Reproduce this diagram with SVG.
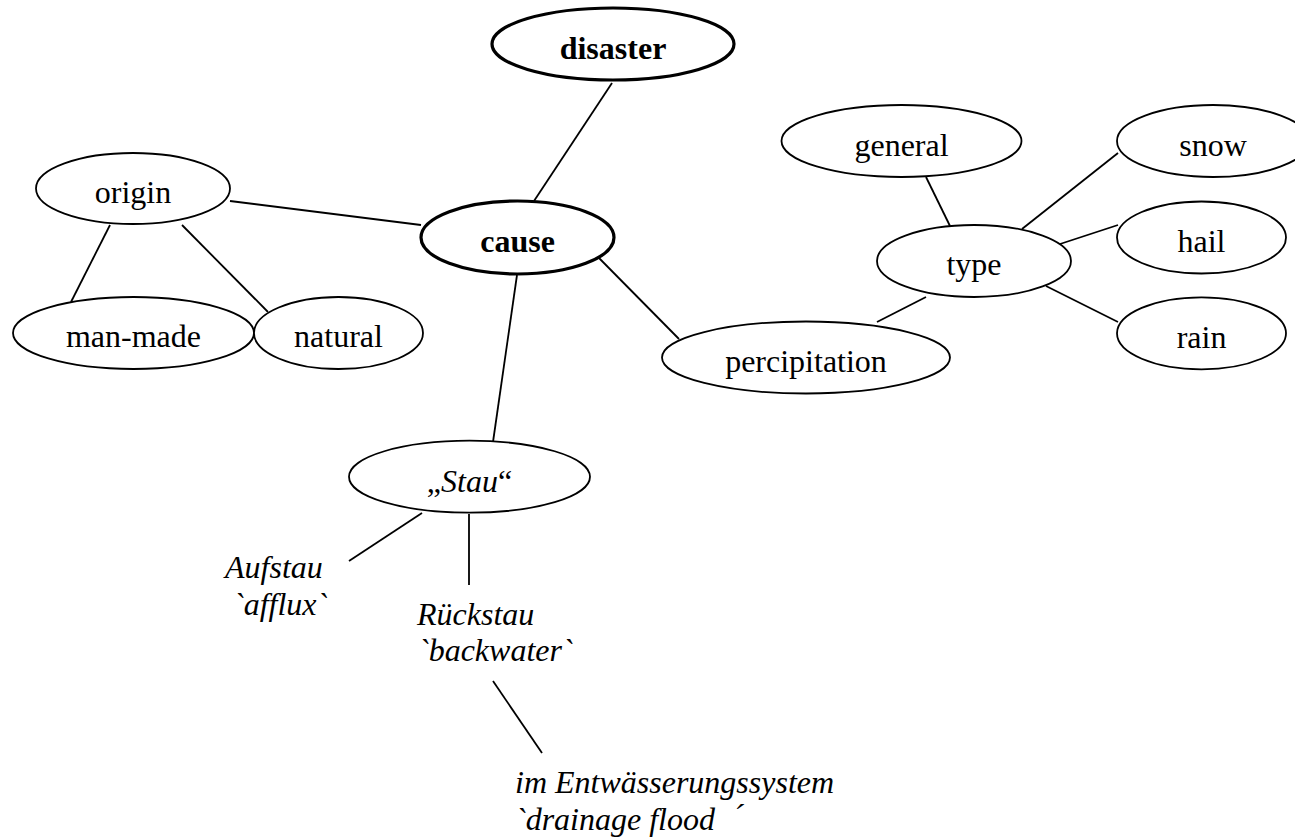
<svg xmlns="http://www.w3.org/2000/svg" width="1295" height="840" viewBox="0 0 1295 840">
<style>
.n{fill:#fff;stroke:#000;stroke-width:1.8}
.b{fill:#fff;stroke:#000;stroke-width:3.2}
.t{font-family:"Liberation Serif","Times New Roman",serif;font-size:32px;fill:#000;text-anchor:middle}
.tb{font-weight:bold}
.f{font-family:"Liberation Serif","Times New Roman",serif;font-size:32px;fill:#000;font-style:italic}
#edges line{stroke:#000;stroke-width:1.8}
</style>
<rect width="1295" height="840" fill="#fff"/>
<g id="edges">
<line x1="612" y1="83" x2="534" y2="201"/>
<line x1="230" y1="201" x2="421" y2="225"/>
<line x1="110" y1="225" x2="71" y2="302"/>
<line x1="182" y1="225" x2="268" y2="312"/>
<line x1="517" y1="275" x2="493" y2="442"/>
<line x1="599" y1="258" x2="679" y2="339"/>
<line x1="926" y1="177" x2="950" y2="226"/>
<line x1="1022" y1="229" x2="1118" y2="153"/>
<line x1="1060" y1="244" x2="1118" y2="225"/>
<line x1="1046" y1="286" x2="1118" y2="322"/>
<line x1="926" y1="297" x2="877" y2="322"/>
<line x1="422" y1="513" x2="349" y2="561"/>
<line x1="469" y1="514" x2="469" y2="585"/>
<line x1="493" y1="681" x2="542" y2="753"/>
</g>
<g id="disaster"><ellipse class="b" cx="613" cy="44" rx="121" ry="36"/><text class="t tb" x="613" y="59">disaster</text></g>
<g id="cause"><ellipse class="b" cx="517.5" cy="237.5" rx="96.5" ry="36.5"/><text class="t tb" x="517.5" y="252">cause</text></g>
<g id="origin"><ellipse class="n" cx="133" cy="188.5" rx="97" ry="35.5"/><text class="t" x="133" y="203">origin</text></g>
<g id="man-made"><ellipse class="n" cx="133.5" cy="333" rx="120.5" ry="36"/><text class="t" x="133.5" y="347">man-made</text></g>
<g id="natural"><ellipse class="n" cx="338.5" cy="333" rx="84.5" ry="36"/><text class="t" x="338.5" y="347">natural</text></g>
<g id="general"><ellipse class="n" cx="901.5" cy="141" rx="120" ry="36"/><text class="t" x="901.5" y="156">general</text></g>
<g id="snow"><ellipse class="n" cx="1213" cy="141" rx="96" ry="36"/><text class="t" x="1213" y="156">snow</text></g>
<g id="type"><ellipse class="n" cx="974" cy="261" rx="97" ry="36"/><text class="t" x="974" y="275">type</text></g>
<g id="hail"><ellipse class="n" cx="1201.5" cy="237.5" rx="84.5" ry="36"/><text class="t" x="1201.5" y="252">hail</text></g>
<g id="rain"><ellipse class="n" cx="1201.5" cy="333.3" rx="84.5" ry="36"/><text class="t" x="1201.5" y="348">rain</text></g>
<g id="percipitation"><ellipse class="n" cx="806" cy="357.5" rx="144" ry="36"/><text class="t" x="806" y="372">percipitation</text></g>
<g id="stau"><ellipse class="n" cx="469.5" cy="476.7" rx="120.5" ry="36"/><text class="t" x="469.5" y="492">„<tspan font-style="italic">Stau</tspan>“</text></g>
<g id="aufstau"><text class="f" x="225" y="578">Aufstau</text><text class="f" x="233" y="615">`afflux`</text></g>
<g id="rueckstau"><text class="f" x="417" y="625">Rückstau</text><text class="f" x="418" y="661">`backwater`</text></g>
<g id="drainage"><text class="f" x="515" y="793">im Entwässerungssystem</text><text class="f" x="515" y="830">`drainage flood <tspan dx="10" dy="-4">´</tspan></text></g>
</svg>
